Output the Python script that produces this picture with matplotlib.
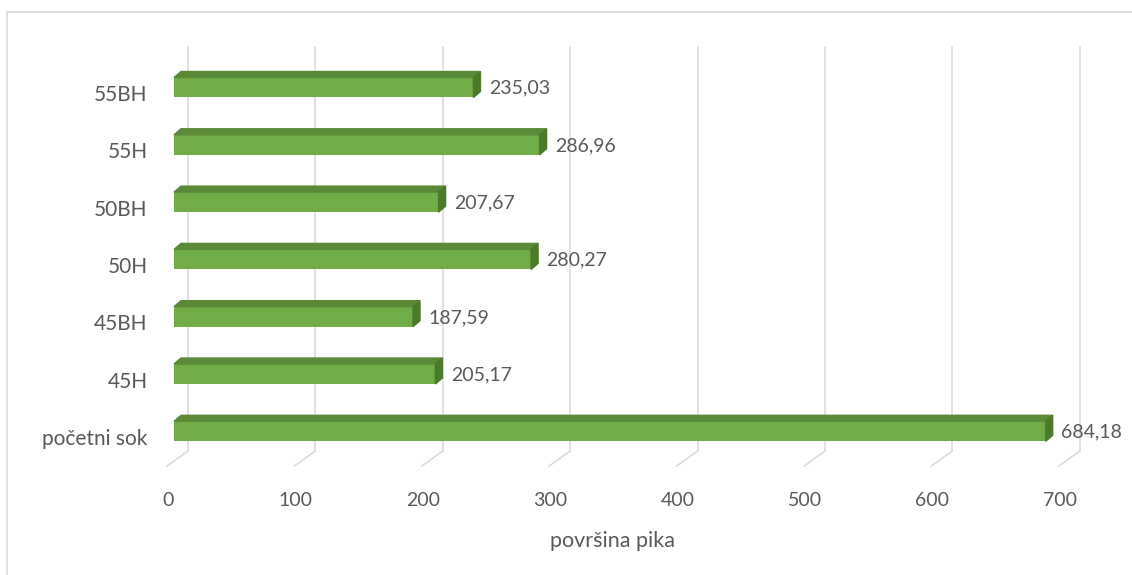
import matplotlib
matplotlib.use("Agg")
import matplotlib.pyplot as plt
from matplotlib.patches import Polygon, Rectangle
from matplotlib.transforms import ScaledTranslation

# data
categories = ['početni sok', '45H', '45BH', '50H', '50BH', '55H', '55BH']
values = [684.18, 205.17, 187.59, 280.27, 207.67, 286.96, 235.03]
value_labels = ['684,18', '205,17', '187,59', '280,27', '207,67', '286,96', '235,03']
xticks = [0, 100, 200, 300, 400, 500, 600, 700]
xlabel = 'površina pika'

plt.rcParams['font.family'] = ['Lato', 'DejaVu Sans']
txt_col = '#595959'
grid_col = '#d9d9d9'
front_col = '#70ad47'
top_col = '#5a8a38'
side_col = '#4a7a2a'

W, H, DPI = 1132, 575, 100
fig = plt.figure(figsize=(W / DPI, H / DPI), dpi=DPI)
ax = fig.add_axes([174 / W, (H - 461) / H, 891.8 / W, 404 / H])
xmin, xmax = 0, 700
ymin, ymax = -0.518, 6.532
ax.set_xlim(xmin, xmax)
ax.set_ylim(ymin, ymax)

# pixel -> data conversion (axes size is fixed)
ppx = 891.8 / (xmax - xmin)
ppy = 404 / (ymax - ymin)

# back wall gridlines + floor diagonals
bx, by = 14 / ppx, 10 / ppy
fx, fy = -7 / ppx, -5 / ppy
for v in xticks:
    ax.plot([v + bx, v + bx], [ymin + by, ymax + by], color=grid_col, lw=1.1,
            clip_on=False, zorder=0)
    ax.plot([v + bx, v + fx], [ymin + by, ymin + fy], color=grid_col, lw=1.1,
            clip_on=False, zorder=0)

# bars (front face) + 3D top/side faces
ypos = list(range(len(categories)))
h = 20 / ppy
ax.barh(ypos, values, height=h, color=front_col, zorder=3)
dx, dy = 7 / ppx, 6 / ppy
for y, v, lab in zip(ypos, values, value_labels):
    top, bot = y + h / 2, y - h / 2
    ax.add_patch(Polygon([(0, top), (v, top), (v + dx, top + dy), (dx, top + dy)],
                         closed=True, color=top_col, zorder=3, clip_on=False))
    ax.add_patch(Polygon([(v, bot), (v, top), (v + dx, top + dy), (v + dx, bot + dy)],
                         closed=True, color=side_col, zorder=3, clip_on=False))
    ax.annotate(lab, (v, y), xytext=(11, -0.5), textcoords='offset points',
                va='center', ha='left', fontsize=14, color=txt_col)

# axes styling
for s in ax.spines.values():
    s.set_visible(False)
ax.set_yticks(ypos)
ax.set_yticklabels(categories, fontsize=15)
ax.set_xticks(xticks)
ax.set_xticklabels([str(t) for t in xticks], fontsize=14)
ax.tick_params(axis='both', length=0, labelcolor=txt_col)
ax.tick_params(axis='y', pad=19)
ax.tick_params(axis='x', pad=22)
for lbl in ax.get_yticklabels():
    lbl.set_transform(lbl.get_transform() + ScaledTranslation(0, -5.5 / DPI, fig.dpi_scale_trans))
for lbl in ax.get_xticklabels():
    lbl.set_transform(lbl.get_transform() + ScaledTranslation(-6 / DPI, 0, fig.dpi_scale_trans))
ax.set_xlabel(xlabel, fontsize=15.5, color=txt_col)
ax.xaxis.set_label_coords(613 / W, (H - 541) / H, transform=fig.transFigure)
ax.xaxis.label.set_va('center')

# chart area border
fig.add_artist(Rectangle((7 / W, -0.1), 2, (H - 12) / H + 0.1, transform=fig.transFigure,
                         fill=False, edgecolor=grid_col, lw=1.2))

fig.savefig('out.png', dpi=DPI)
